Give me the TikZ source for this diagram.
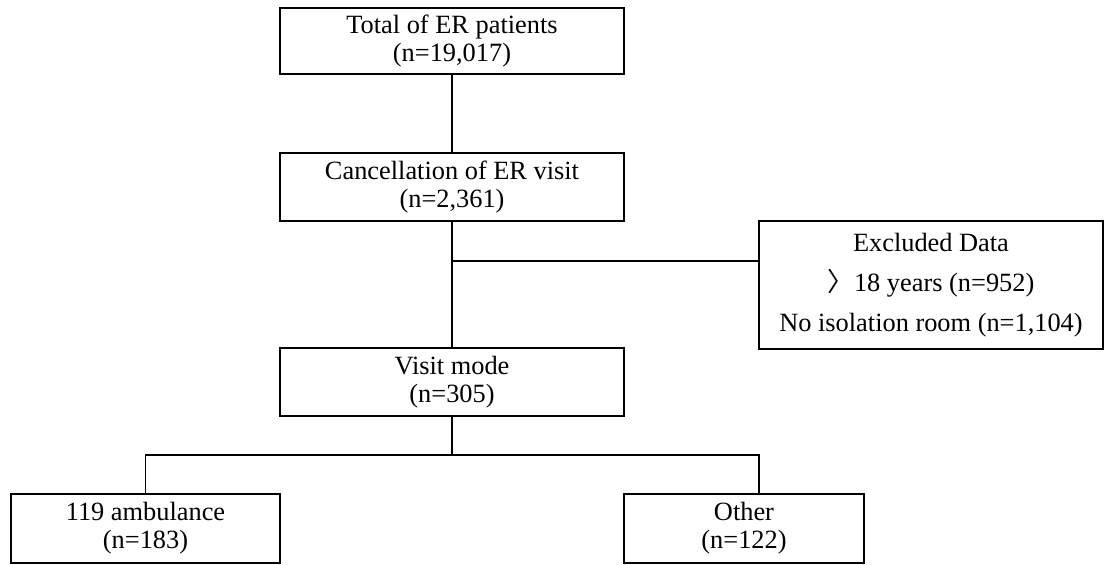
\documentclass[tikz,border=0pt]{standalone}
\usepackage{fontspec}
\setmainfont{Liberation Serif}
\newfontfamily\cjk{Noto Sans CJK KR}
\begin{document}
\begin{tikzpicture}[box/.style={draw,line width=0.9pt,align=center,inner sep=0pt,font=\fontsize{15}{16}\selectfont},
	link/.style={line width=0.9pt}]
			\useasboundingbox (0.,0.) rectangle (22.1,-11.28);
			\node[box,minimum width=6.88cm,minimum height=1.32cm] (total) at (9.04,-0.82) {Total of ER patients\\(n=19,017)};
			\node[box,minimum width=6.88cm,minimum height=1.36cm] (cancel) at (9.04,-3.74) {Cancellation of ER visit\\(n=2,361)};
			\node[box,minimum width=6.88cm,minimum height=2.56cm] (excluded) at (18.62,-5.70) {Excluded Data\\[6.8pt]{\cjk 〉}18 years (n=952)\\[6.8pt]No isolation room (n=1,104)};
			\node[box,minimum width=6.88cm,minimum height=1.36cm] (visit) at (9.04,-7.64) {Visit mode\\(n=305)};
			\node[box,minimum width=5.38cm,minimum height=1.38cm] (amb) at (2.91,-10.57) {119 ambulance\\(n=183)};
			\node[box,minimum width=4.8cm,minimum height=1.38cm] (other) at (14.88,-10.57) {Other\\(n=122)};
			
			\coordinate (excl) at (9.04,-5.22);
			\coordinate (split) at (9.04,-9.10);
			\coordinate (right) at (15.18,-9.10);
			\draw[link] (total) -- (cancel);
			\draw[link] (cancel) -- (visit);
			\draw[link] (excl) -- (excluded.west |- excl);
			\draw[link] (visit) -- (split);
			\draw[link] (amb.north) |- (right) -- (right |- other.north);
		\end{tikzpicture}
\end{document}
